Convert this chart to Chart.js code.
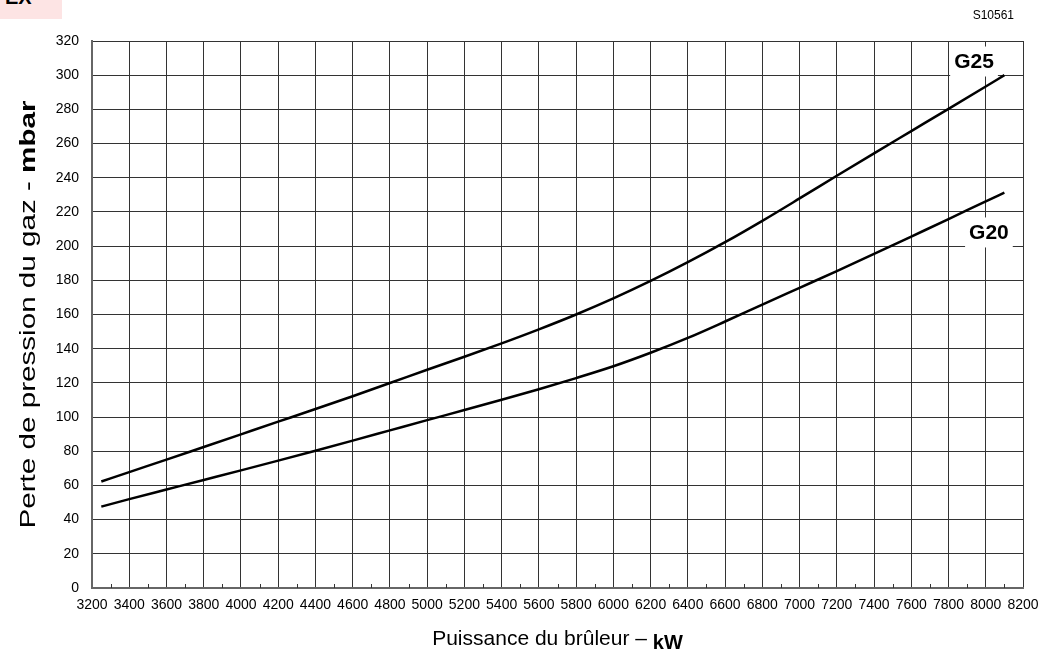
<!DOCTYPE html>
<html>
<head>
<meta charset="utf-8">
<script src="https://cdn.jsdelivr.net/npm/chart.js@4/dist/chart.umd.min.js"></script>
<style>
html, body { margin: 0; padding: 0; background: #fff; }
#wrap { position: relative; width: 1040px; height: 652px; }
#tag { position: absolute; left: 0; top: 0; width: 62px; height: 19px; background: #fde4e4; overflow: hidden; }
#tag span { position: absolute; left: 5px; top: -13px; font: bold 20px/20px Arial, "Liberation Sans", sans-serif; color: #000; }
</style>
</head>
<body>
<div id="wrap">
    <canvas id="lossChart" width="1040" height="652"></canvas>
    <div id="tag"><span>EX</span></div>
</div>
<script>
// burner output (kW) and gas pressure loss (mbar)
const powerKw = [3250, 3400, 3600, 3800, 4000, 4200, 4400, 4600, 4800, 5000, 5200, 5400, 5600,
    5800, 6000, 6200, 6400, 6600, 6800, 7000, 7200, 7400, 7600, 7800, 8000, 8100];
const lossG25 = [62.3, 67.8, 75.1, 82.5, 89.9, 97.3, 104.7, 112.2, 119.9, 127.7, 135.3, 143.1, 151.3,
    160, 169.4, 179.6, 190.6, 202.3, 214.8, 227.9, 241.2, 254.3, 267.3, 280.3, 293.4, 300];
const lossG20 = [47.6, 52, 57.6, 63.2, 68.8, 74.5, 80.3, 86.2, 92.2, 98.2, 104.1, 110.1, 116.3,
    122.8, 129.7, 137.6, 146.3, 155.9, 165.8, 175.6, 185.4, 195.4, 205.6, 215.8, 226.2, 231.3];

const xMin = 3200, xMax = 8200, xStep = 200;
const yMin = 0, yMax = 320, yStep = 20;

const curveNames = ['G25', 'G20'];
const fontFamily = 'Arial, "Liberation Sans", sans-serif';

const points = (ys) => powerKw.map((x, i) => ({ x, y: ys[i] }));

// text and little extras the library has no option for
const sheetExtras = {
    id: 'sheetExtras',
    beforeDatasetsDraw(chart, args, opts) {
        const { ctx, scales: { x, y } } = chart;
        ctx.save();
        ctx.font = 'bold 21px ' + fontFamily;
        ctx.textAlign = 'center';
        ctx.textBaseline = 'middle';
        opts.labels.forEach((lab) => {
            const px = x.getPixelForValue(lab.x);
            const py = y.getPixelForValue(lab.y);
            const w = ctx.measureText(lab.text).width;
            ctx.fillStyle = '#fff';
            ctx.fillRect(px - w / 2 - 4, py - 15, w + 8, 30);
            ctx.fillStyle = '#000';
            ctx.fillText(lab.text, px, py + 1);
        });
        ctx.restore();
    },
    afterDraw(chart) {
        const { ctx, chartArea: a, scales: { x } } = chart;
        ctx.save();

        // minor ticks between the labelled ones
        ctx.strokeStyle = '#333';
        ctx.lineWidth = 1;
        for (let v = xMin + xStep / 2; v < xMax; v += xStep) {
            const px = Math.round(x.getPixelForValue(v)) + 0.5;
            ctx.beginPath();
            ctx.moveTo(px, a.bottom);
            ctx.lineTo(px, a.bottom - 4);
            ctx.stroke();
        }

        ctx.fillStyle = '#000';
        ctx.textBaseline = 'alphabetic';

        // x title: regular part + bold unit
        const xPlain = 'Puissance du brûleur – ';
        const xUnit = 'kW';
        ctx.font = '21px ' + fontFamily;
        const w1 = ctx.measureText(xPlain).width;
        ctx.font = 'bold 20px ' + fontFamily;
        const w2 = ctx.measureText(xUnit).width;
        let sx = (a.left + a.right) / 2 - (w1 + w2) / 2;
        ctx.textAlign = 'left';
        ctx.font = '21px ' + fontFamily;
        ctx.fillText(xPlain, sx, 645);
        ctx.font = 'bold 20px ' + fontFamily;
        ctx.fillText(xUnit, sx + w1, 649);

        // y title, stretched along its length like the original
        const yPlain = 'Perte de pression du gaz - ';
        const yUnit = 'mbar';
        ctx.font = '22px ' + fontFamily;
        const h1 = ctx.measureText(yPlain).width;
        ctx.font = 'bold 22px ' + fontFamily;
        const h2 = ctx.measureText(yUnit).width;
        const stretch = 428 / (h1 + h2);
        ctx.translate(35, (a.top + a.bottom) / 2);
        ctx.rotate(-Math.PI / 2);
        ctx.scale(stretch, 1);
        const sy = -(h1 + h2) / 2;
        ctx.font = '22px ' + fontFamily;
        ctx.fillText(yPlain, sy, 0);
        ctx.font = 'bold 22px ' + fontFamily;
        ctx.fillText(yUnit, sy + h1, 0);
        ctx.restore();

        // drawing number
        ctx.save();
        ctx.font = '12px ' + fontFamily;
        ctx.fillStyle = '#000';
        ctx.textAlign = 'right';
        ctx.fillText('S10561', 1014, 19);
        ctx.restore();
    },
};

new Chart(document.getElementById('lossChart'), {
    type: 'scatter',
    data: {
        datasets: [
            {
                label: curveNames[0],
                data: points(lossG25),
                showLine: true,
                borderColor: '#000',
                borderWidth: 2.5,
                pointRadius: 0,
                cubicInterpolationMode: 'monotone',
            },
            {
                label: curveNames[1],
                data: points(lossG20),
                showLine: true,
                borderColor: '#000',
                borderWidth: 2.5,
                pointRadius: 0,
                cubicInterpolationMode: 'monotone',
            },
        ],
    },
    options: {
        responsive: false,
        animation: false,
        devicePixelRatio: 1,
        layout: {
            padding: { top: 41, right: 17, left: 0, bottom: 0 },
        },
        plugins: {
            legend: { display: false },
            tooltip: { enabled: false },
            sheetExtras: {
                labels: [
                    { text: curveNames[0], x: 7937, y: 308 },
                    { text: curveNames[1], x: 8017, y: 208 },
                ],
            },
        },
        scales: {
            x: {
                type: 'linear',
                min: xMin,
                max: xMax,
                afterFit: (scale) => {
                    scale.height = 64;
                    scale.paddingLeft = 0;
                    scale.paddingRight = 0;
                },
                ticks: {
                    stepSize: xStep,
                    color: '#000',
                    padding: 9,
                    maxRotation: 0,
                    autoSkip: false,
                    font: { family: fontFamily, size: 14 },
                    callback: (v) => String(v),
                },
                grid: {
                    color: '#333',
                    lineWidth: 1,
                    drawTicks: false,
                },
                border: { color: '#666', width: 2 },
            },
            y: {
                min: yMin,
                max: yMax,
                afterFit: (scale) => {
                    scale.width = 92;
                    scale.paddingTop = 0;
                    scale.paddingBottom = 0;
                },
                ticks: {
                    stepSize: yStep,
                    color: '#000',
                    padding: 13,
                    font: { family: fontFamily, size: 14 },
                },
                grid: {
                    color: '#333',
                    lineWidth: 1,
                    drawTicks: false,
                },
                border: { color: '#666', width: 2 },
            },
        },
    },
    plugins: [sheetExtras],
});
</script>
</body>
</html>
